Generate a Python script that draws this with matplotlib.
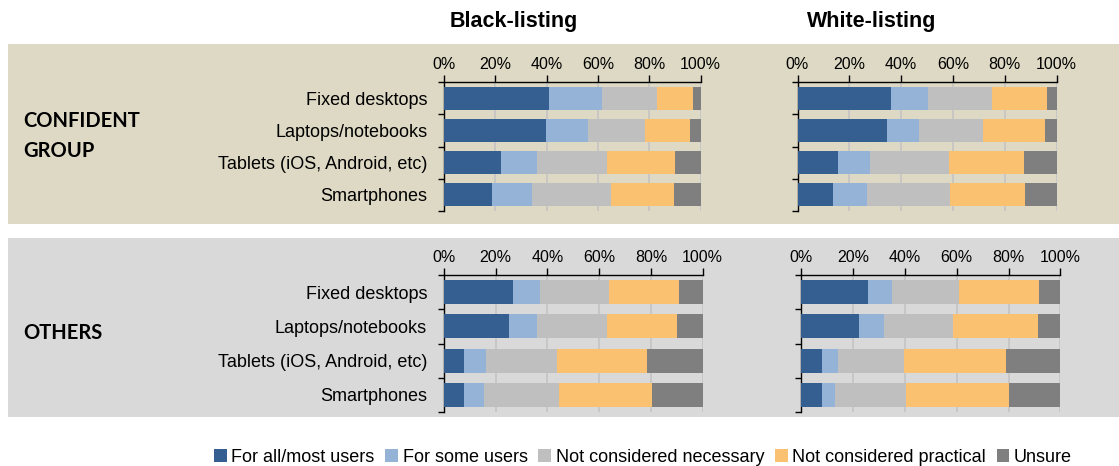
import numpy as np
import matplotlib
matplotlib.use('Agg')
import matplotlib.pyplot as plt
from matplotlib.patches import Rectangle

plt.rcParams['font.family'] = ['Liberation Sans', 'DejaVu Sans']

devices = ['Fixed desktops', 'Laptops/notebooks', 'Tablets (iOS, Android, etc)', 'Smartphones']
answers = ['For all/most users', 'For some users', 'Not considered necessary',
           'Not considered practical', 'Unsure']
colors = ['#365F91', '#95B3D7', '#BFBFBF', '#F9C170', '#7F7F7F']
pct_ticks = [0, 20, 40, 60, 80, 100]

# shares per device, columns follow `answers`
conf_black = [[41.0, 20.7, 21.3, 14.0, 3.0],
              [39.7, 16.6, 22.2, 17.5, 4.0],
              [22.4, 13.9, 27.4, 26.3, 10.0],
              [18.9, 15.5, 30.6, 24.5, 10.5]]
conf_white = [[36.2, 14.2, 24.7, 21.0, 3.9],
              [34.6, 12.3, 24.7, 23.7, 4.7],
              [15.6, 12.5, 30.5, 28.6, 12.8],
              [13.8, 13.0, 32.2, 28.7, 12.3]]
other_black = [[26.8, 10.4, 26.8, 26.7, 9.3],
               [25.1, 10.9, 27.1, 27.1, 9.8],
               [8.0, 8.5, 27.4, 34.7, 21.4],
               [8.0, 7.6, 29.0, 35.8, 19.6]]
other_white = [[25.7, 9.4, 25.7, 31.1, 8.1],
               [22.3, 9.8, 26.5, 32.9, 8.5],
               [8.0, 6.2, 25.6, 39.2, 21.0],
               [8.0, 5.0, 27.4, 39.8, 19.8]]

W, H = 1119, 466
fig = plt.figure(figsize=(W / 100, H / 100), dpi=100)


def px_rect(x0, y0, x1, y1):
    return [x0 / W, 1 - y1 / H, (x1 - x0) / W, (y1 - y0) / H]


def panel(x0, y0, x1, y1, color):
    l, b, w, h = px_rect(x0, y0, x1, y1)
    fig.patches.append(Rectangle((l, b), w, h, transform=fig.transFigure,
                                 facecolor=color, edgecolor='none', zorder=-10))


def stacked(rect, data, show_labels, bar_h):
    ax = fig.add_axes(px_rect(*rect))
    ax.set_facecolor('none')
    data = np.array(data)
    y = np.arange(len(devices))
    left = np.zeros(len(devices))
    for j in range(len(answers)):
        ax.barh(y, data[:, j], left=left, height=bar_h, color=colors[j],
                edgecolor='none', zorder=3)
        left += data[:, j]
    ax.set_xlim(0, 100)
    ax.set_ylim(len(devices) - 0.5, -0.5)
    ax.xaxis.tick_top()
    ax.set_xticks(pct_ticks)
    ax.set_xticklabels(['%d%%' % t for t in pct_ticks], fontsize=11.5)
    ax.tick_params(axis='x', length=5, width=1, pad=2, color='black')
    ax.grid(axis='x', color='#C4C4C4', lw=1.2, zorder=1)
    ax.set_yticks(y)
    ax.set_yticks(np.arange(len(devices) + 1) - 0.5, minor=True)
    ax.tick_params(axis='y', which='major', length=0, pad=12)
    ax.tick_params(axis='y', which='minor', length=4, width=1)
    if show_labels:
        ax.set_yticklabels(devices, fontsize=13)
    else:
        ax.set_yticklabels([])
    for s in ['right', 'bottom']:
        ax.spines[s].set_visible(False)
    ax.spines['top'].set_linewidth(1)
    ax.spines['left'].set_linewidth(1)
    return ax


panel(8, 44, W, 223.5, '#DDD9C4')
panel(8, 238, W, 417, '#D9D9D9')

stacked((444, 82, 700.5, 211), conf_black, True, 0.72)
stacked((797.5, 82, 1056.7, 211), conf_white, False, 0.72)
stacked((443.7, 275, 702.7, 412), other_black, True, 0.70)
stacked((801.3, 275, 1060.3, 412), other_white, False, 0.70)

fig.text(514 / W, 1 - 21 / H, 'Black-listing', ha='center', va='center',
         fontsize=15.5, fontweight='bold')
fig.text(872 / W, 1 - 21 / H, 'White-listing', ha='center', va='center',
         fontsize=15.5, fontweight='bold')

grp_font = ['Lato', 'DejaVu Sans']
fig.text(23 / W, 1 - 121 / H, 'CONFIDENT', ha='left', va='center',
         fontsize=14.5, fontweight='bold', family=grp_font)
fig.text(23 / W, 1 - 151 / H, 'GROUP', ha='left', va='center',
         fontsize=14.5, fontweight='bold', family=grp_font)
fig.text(23 / W, 1 - 333 / H, 'OTHERS', ha='left', va='center',
         fontsize=14.5, fontweight='bold', family=grp_font)

handles = [Rectangle((0, 0), 1, 1, facecolor=c, edgecolor='none') for c in colors]
fig.legend(handles, answers, loc='center', bbox_to_anchor=(643 / W, 1 - 457 / H),
           ncol=5, frameon=False, fontsize=13, handlelength=0.7, handleheight=0.7,
           handletextpad=0.25, columnspacing=0.6, borderpad=0)

fig.savefig('out.png', dpi=100)
